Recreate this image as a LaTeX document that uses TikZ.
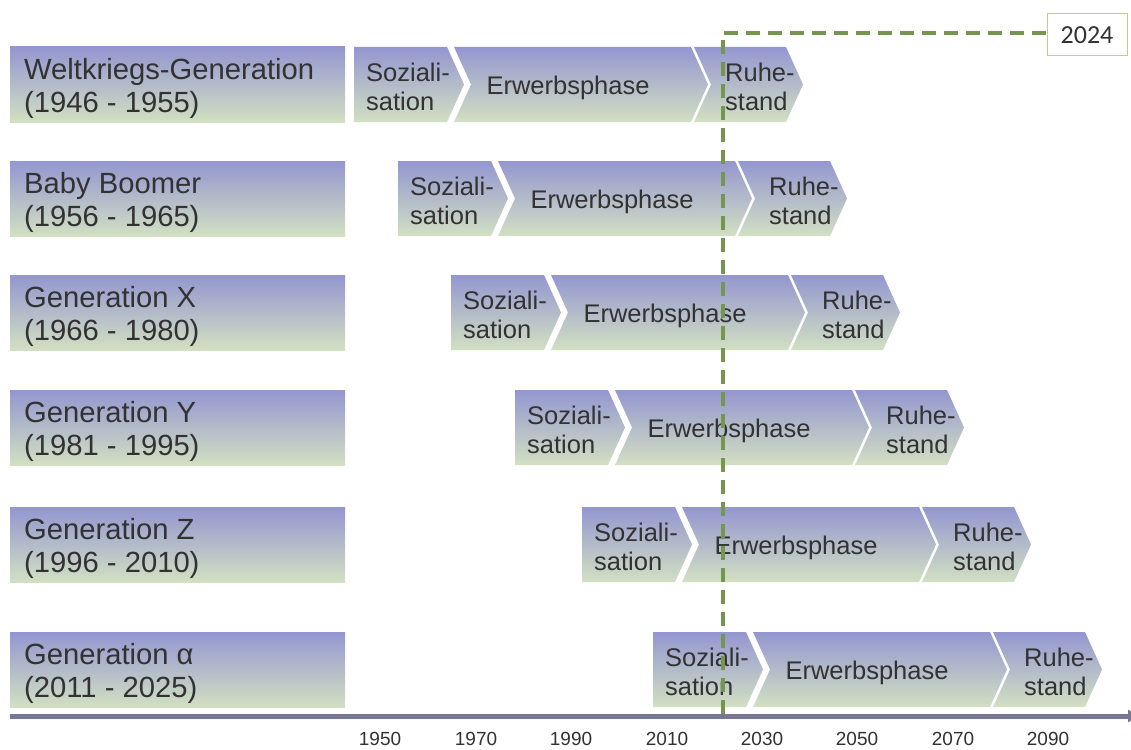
\documentclass[tikz,border=0pt]{standalone}
\usepackage{fontspec}
\usetikzlibrary{arrows.meta}
\setmainfont{Liberation Sans}
\newfontfamily\calfont{Carlito}
\begin{document}
\begin{tikzpicture}[x=1pt,y=-1pt,
  txt/.style={text=textgray,inner sep=0pt},
  band/.style={top color=topc,bottom color=botc,draw=none},
  lbl/.style={txt,anchor=west,align=left,font=\fontsize{29.2}{33}\selectfont},
  phase/.style={txt,align=left,font=\fontsize{25.5}{28.5}\selectfont},
  yearlbl/.style={txt,anchor=base,font=\fontsize{19}{22}\selectfont},
  nowline/.style={draw=nowgreen,line width=3.6pt,dash pattern=on 14pt off 8pt}
]
\definecolor{topc}{RGB}{148,150,208}
\definecolor{botc}{RGB}{210,224,194}
\definecolor{textgray}{RGB}{50,50,50}
\definecolor{nowgreen}{RGB}{118,150,80}
\definecolor{axisc}{RGB}{118,118,150}
\definecolor{boxc}{RGB}{190,204,150}
\useasboundingbox (0,0) rectangle (1131,749);
\fill[white] (0,0) rectangle (1131,749);

\foreach \i/\yt/\xo/\la/\lb in {1/47/354/Weltkriegs-Generation/(1946 - 1955),
  2/161/398/Baby Boomer/(1956 - 1965),
  3/275/451/Generation X/(1966 - 1980),
  4/390/515/Generation Y/(1981 - 1995),
  5/507/582/Generation Z/(1996 - 2010),
  6/632/653/Generation α/(2011 - 2025)}{
  % label box
  \path[band] (10,\yt) rectangle (345,\yt+75);
  \node[lbl] (label\i) at (24,\yt+41) {\la\\\lb};
  % Sozialisation
  \path[band] (\xo,\yt) -- (\xo+93,\yt) -- (\xo+110,\yt+37.5) -- (\xo+93,\yt+75) -- (\xo,\yt+75) -- cycle;
  % Erwerbsphase
  \path[band] (\xo+100,\yt) -- (\xo+337,\yt) -- (\xo+354,\yt+37.5) -- (\xo+337,\yt+75) -- (\xo+100,\yt+75) -- (\xo+117,\yt+37.5) -- cycle;
  % Ruhestand
  \path[band] (\xo+340,\yt) -- (\xo+432,\yt) -- (\xo+449,\yt+37.5) -- (\xo+432,\yt+75) -- (\xo+340,\yt+75) -- (\xo+357,\yt+37.5) -- cycle;
  \node[phase,anchor=west] (soz\i) at (\xo+12,\yt+40) {Soziali-\\sation};
  \node[phase] (erw\i) at (\xo+214,\yt+41) {Erwerbsphase};
  \node[phase,anchor=west] (ruhe\i) at (\xo+371,\yt+40) {Ruhe-\\stand};
}

% time axis
\coordinate (axL) at (10,716);
\coordinate (axR) at (1140,716);
\draw[axisc,line width=5pt,-{Latex[length=12pt,width=14pt]}] (axL) -- (axR);
\foreach \yr/\x in {1950/380,1970/476,1990/571,2010/667,2030/762,2050/857,2070/953,2090/1048}{
  \node[yearlbl] (y\yr) at (\x,745) {\yr};
}

% 2024 marker
\node[draw=boxc,line width=1pt,minimum width=80pt,minimum height=42pt,inner sep=0pt,
      text=textgray,font=\calfont\fontsize{26}{30}\selectfont] (now) at (1087,35) {2024};
\coordinate (corner) at (723,33);
\coordinate (base) at (723,714);
\draw[nowline] (base) -- (corner) -- (now.west |- corner);
\end{tikzpicture}
\end{document}
